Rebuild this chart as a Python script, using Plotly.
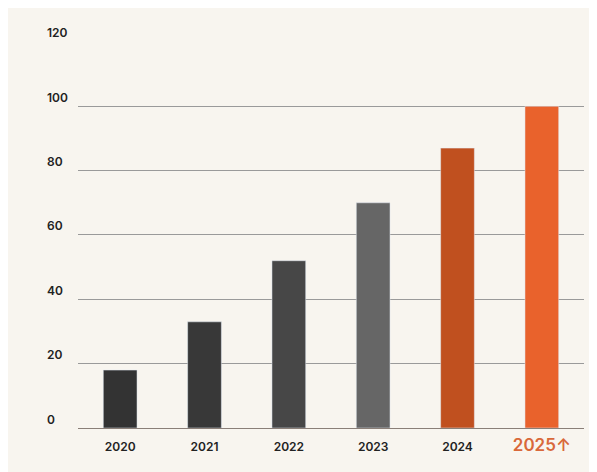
import plotly.graph_objects as go

years = ["2020", "2021", "2022", "2023", "2024", "2025"]
values = [18, 33, 52, 70, 87, 100]
colors = ["#333333", "#383838", "#474747", "#666666", "#c0501f", "#e9622c"]
y_ticks = [0, 20, 40, 60, 80, 100, 120]
x_labels = ["2020", "2021", "2022", "2023", "2024",
            "<span style='font-size:17px;color:#d9683a'>2025↑</span>"]

fig = go.Figure()
fig.add_trace(go.Bar(x=years, y=values, marker_color=colors, width=0.4,
                     hoverinfo="skip"))

for v in y_ticks:
    fig.add_annotation(x=-0.065, y=v, xref="paper", yref="y", text=str(v),
                       showarrow=False, yshift=9,
                       font=dict(size=12, color="#222222", family="Inter",
                                 weight=600))

fig.update_layout(
    width=597, height=472,
    margin=dict(l=70, r=21, t=33, b=52, autoexpand=False),
    paper_bgcolor="#f8f5ef", plot_bgcolor="rgba(0,0,0,0)",
    showlegend=False,
    font=dict(family="Inter", size=12, color="#222222"),
    xaxis=dict(tickvals=years, ticktext=x_labels, showgrid=False,
               showline=True, linecolor="#8a7f78", linewidth=1, ticks="",
               automargin=False, ticklabelstandoff=8,
               tickfont=dict(size=12, weight=600, color="#222222")),
    yaxis=dict(range=[0, 120.3], tickvals=y_ticks, showticklabels=False,
               gridcolor="#9a9a9a", gridwidth=0.6, zeroline=False,
               automargin=False),
)
fig.write_html("out.html")
